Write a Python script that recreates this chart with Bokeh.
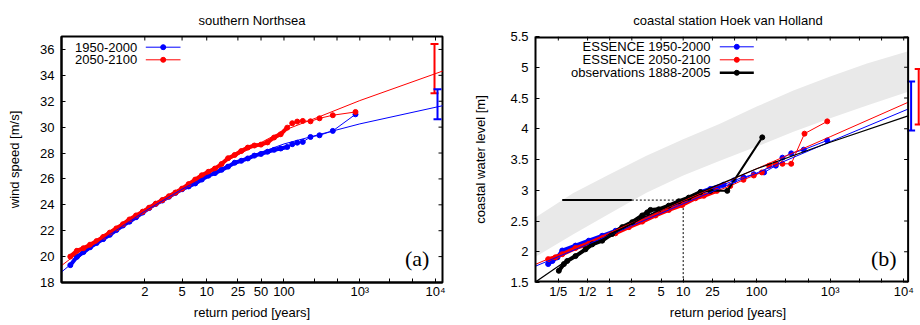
import numpy as np
from bokeh.plotting import figure
from bokeh.layouts import row
from bokeh.models import Range1d, FixedTicker, Label, Span
from bokeh.embed import file_html
from bokeh.resources import INLINE

FONT = "Liberation Sans"
FS = "13px"
BLUE = "#0000ff"
RED = "#ff0000"
BLACK = "#000000"

# ---------------- (a) southern Northsea: wind speed vs return period ----------------
wind_T = [1.00125, 1.00421, 1.01144, 1.02617, 1.0522, 1.0935, 1.1541, 1.2381, 1.3501, 1.4952,
          1.6796, 1.911, 2.199, 2.555, 2.993, 3.532, 4.191, 5.0, 5.988, 7.199,
          8.676, 10.48, 12.69, 15.38, 18.68, 22.70, 27.62, 33.61, 40.95, 49.90,
          60.8, 74.2, 90.5, 110.4, 128.4, 149.4, 176.9, 223.7, 294, 440, 877]
wind_1950 = [19.34, 19.98, 20.35, 20.72, 21.05, 21.35, 21.68, 22.05, 22.4, 22.7,
             23.04, 23.4, 23.75, 24.07, 24.33, 24.62, 24.92, 25.2, 25.42, 25.65,
             25.95, 26.25, 26.45, 26.7, 26.95, 27.25, 27.4, 27.58, 27.8, 27.93,
             28.1, 28.25, 28.35, 28.47, 28.68, 28.8, 28.86, 29.24, 29.37, 29.71, 30.99]
wind_2050 = [20.0, 20.45, 20.65, 20.92, 21.2, 21.52, 21.85, 22.18, 22.5, 22.87,
             23.18, 23.47, 23.78, 24.09, 24.37, 24.66, 24.95, 25.25, 25.6, 25.95,
             26.28, 26.55, 26.8, 27.15, 27.6, 27.85, 28.15, 28.42, 28.58, 28.65,
             28.82, 29.2, 29.45, 29.96, 30.3, 30.43, 30.48, 30.45, 30.68, 30.92, 31.17]
wind_fit_T = [1.0001, 1.01, 1.1, 1.5, 2, 5, 10, 25, 100, 300, 1000, 13000]
wind_fit_1950 = [18.70, 20.15, 21.4, 22.72, 23.5, 25.2, 26.23, 27.4, 28.7, 29.45, 30.25, 31.68]
wind_fit_2050 = [19.2, 20.55, 21.7, 22.95, 23.6, 25.35, 26.55, 27.85, 29.75, 30.83, 32.05, 34.37]
wind_err_T = 10000
wind_err_1950 = [30.61, 32.92]
wind_err_2050 = [32.61, 36.42]
wind_xticks = [2, 5, 10, 25, 50, 100, 250, 500, 1000, 2500, 5000, 10000]
wind_xlabels = ["2", "5", "10", "25", "50", "100", "", "", "10³", "", "", "10⁴"]
wind_yticks = [18, 20, 22, 24, 26, 28, 30, 32, 34, 36]

# ---------------- (b) Hoek van Holland: coastal water level vs return period ----------------
ess_T_1950 = [0.1455, 0.166, 0.195, 0.226, 0.343, 0.520, 0.791, 1.20, 1.82, 2.77,
              4.20, 6.37, 9.68, 14.7, 17.2, 23.4, 35.5, 49.0, 66.1, 91.2,
              126, 182, 224, 295, 437, 912]
ess_1950 = [1.80, 1.85, 1.91, 2.02, 2.10, 2.18, 2.26, 2.34, 2.43, 2.53,
            2.61, 2.69, 2.80, 2.91, 2.97, 3.02, 3.09, 3.16, 3.21, 3.26,
            3.29, 3.40, 3.53, 3.60, 3.66, 3.81]
ess_T_2050 = [0.1455, 0.183, 0.226, 0.343, 0.520, 0.791, 1.20, 1.82, 2.77, 4.20,
              6.37, 9.68, 14.7, 19.1, 28.8, 43.7, 66.1, 91.2, 117.5, 148,
              182, 224, 295, 447, 912]
ess_2050 = [1.88, 1.91, 1.96, 2.06, 2.13, 2.22, 2.30, 2.40, 2.49, 2.59,
            2.68, 2.76, 2.87, 2.91, 2.99, 3.07, 3.17, 3.24, 3.29, 3.40,
            3.43, 3.43, 3.43, 3.92, 4.12]
obs_T = [0.203, 0.238, 0.264, 0.343, 0.469, 0.578, 0.791, 1.08, 1.48, 2.02,
         2.77, 3.24, 3.59, 4.66, 6.37, 8.71, 11.9, 17.2, 23.4, 39.8, 119]
obs_level = [1.69, 1.80, 1.85, 1.93, 2.04, 2.12, 2.18, 2.29, 2.40, 2.48,
             2.59, 2.64, 2.68, 2.69, 2.75, 2.82, 2.88, 2.97, 2.99, 2.99, 3.86]
fit_T = [0.0955, 0.214, 0.5, 1, 3.16, 12.6, 100, 1000, 11480]
fit_obs = [1.50, 1.79, 2.06, 2.27, 2.58, 2.90, 3.35, 3.78, 4.21]
fitl_T = [0.0955, 1, 10, 100, 1000, 11480]
fit_1950 = [1.76, 2.27, 2.78, 3.28, 3.79, 4.32]
fit_2050 = [1.79, 2.31, 2.83, 3.35, 3.87, 4.43]
band_T = [0.0955, 0.316, 1, 3.16, 10, 31.6, 100, 316, 1000, 3162, 11480]
band_low = [1.91, 2.28, 2.62, 2.96, 3.24, 3.48, 3.71, 3.95, 4.17, 4.38, 4.60]
band_high = [2.55, 2.95, 3.26, 3.56, 3.83, 4.08, 4.36, 4.62, 4.85, 5.06, 5.26]
ref_level = 2.84
ref_T_band = [0.226, 2.0]
ref_T10 = 10
coast_err_1950 = [3.97, 4.77]
coast_err_2050 = [4.07, 4.97]
coast_xticks = [0.2, 0.5, 1, 2, 5, 10, 25, 50, 100, 250, 500, 1000, 2500, 5000, 10000]
coast_xlabels = ["1/5", "1/2", "1", "2", "5", "10", "25", "", "100", "", "", "10³", "", "", "10⁴"]
coast_yticks = [1.5, 2.0, 2.5, 3.0, 3.5, 4.0, 4.5, 5.0, 5.5]
coast_ylabels = ["1.5", "2", "2.5", "3", "3.5", "4", "4.5", "5", "5.5"]


def gumbel(T):
    T = np.asarray(T, dtype=float)
    return -np.log(-np.log(1.0 - 1.0 / T))


def style(p):
    p.grid.visible = False
    p.background_fill_color = "white"
    p.border_fill_color = "white"
    p.title.align = "center"
    p.title.text_font = FONT
    p.title.text_font_size = FS
    p.title.text_font_style = "normal"
    p.title.text_color = "black"
    p.title.standoff = 17
    for ax in (p.xaxis[0], p.yaxis[0]):
        ax.major_tick_in = 4
        ax.major_tick_out = 0
        ax.minor_tick_line_color = None
        ax.major_tick_line_color = BLACK
        ax.axis_line_color = BLACK
        ax.axis_line_width = 2
        ax.major_label_text_font = FONT
        ax.major_label_text_font_size = FS
        ax.major_label_text_color = BLACK
        ax.axis_label_text_font = FONT
        ax.axis_label_text_font_size = FS
        ax.axis_label_text_font_style = "normal"
        ax.axis_label_text_color = BLACK
    p.xaxis.major_label_standoff = 1
    p.xaxis.axis_label_standoff = 3
    p.yaxis.major_label_standoff = 7


def text_label(p, x, y, txt, align="right", font=FONT, size=FS):
    p.add_layout(Label(x=x, y=y, text=txt, text_align=align, text_baseline="middle",
                       text_font=font, text_font_size=size, text_color=BLACK))


# ================= panel (a) =================
GA0, GA1 = -2.168, 9.423
AY0, AY1 = 18, 37
pa = figure(width=460, height=325, x_range=Range1d(GA0, GA1), y_range=Range1d(AY0, AY1),
            output_backend="svg", toolbar_location=None, title="southern Northsea",
            min_border_left=61, min_border_right=18, min_border_top=36, min_border_bottom=43)
style(pa)
pa.outline_line_color = BLACK
pa.outline_line_width = 2
pa.xaxis.axis_label = "return period [years]"
pa.yaxis.axis_label = "wind speed [m/s]"
pa.yaxis.axis_label_standoff = 15
gx = [float(v) for v in gumbel(wind_xticks)]
pa.xaxis.ticker = FixedTicker(ticks=gx)
pa.xaxis.major_label_overrides = {g: lab for g, lab in zip(gx, wind_xlabels)}
pa.yaxis.ticker = FixedTicker(ticks=wind_yticks)

def a_x(px):
    return GA0 + (px - 61) * (GA1 - GA0) / 381

def a_y(py):
    return AY1 - (py - 36) * (AY1 - AY0) / 246

ax_per_px = (GA1 - GA0) / 381
ay_per_px = (AY1 - AY0) / 246

# mirrored ticks (top and right)
pa.segment(x0=gx, x1=gx, y0=[AY1 - 4 * ay_per_px] * len(gx), y1=[AY1] * len(gx), line_color=BLACK, line_width=1)
pa.segment(x0=[GA1 - 4 * ax_per_px] * len(wind_yticks), x1=[GA1] * len(wind_yticks),
           y0=wind_yticks, y1=wind_yticks, line_color=BLACK, line_width=1)

wg = gumbel(wind_T)
dense_a = np.asarray(wind_T) <= 111
for vals, col in ((wind_1950, BLUE), (wind_2050, RED)):
    v = np.asarray(vals)
    pa.line(wg[dense_a], v[dense_a], line_color=col, line_width=4)
    pa.line(wg, v, line_color=col, line_width=1)
    pa.scatter(wg, v, size=5, marker="circle", fill_color=col, line_color=col)

fg = gumbel(wind_fit_T)
pa.line(fg, wind_fit_1950, line_color=BLUE, line_width=1)
pa.line(fg, wind_fit_2050, line_color=RED, line_width=1)

# error bars at T = 10^4 (slightly offset for visibility)
ge = float(gumbel(wind_err_T))
for (lo, hi), col, off in ((wind_err_2050, RED, -1), (wind_err_1950, BLUE, 2)):
    x = ge + off * ax_per_px
    c = 4 * ax_per_px
    pa.segment(x0=[x, x - c, x - c], x1=[x, x + c, x + c], y0=[lo, lo, hi], y1=[hi, lo, hi],
               line_color=col, line_width=2)

# legend (a)
for i, (name, col) in enumerate((("1950-2000", BLUE), ("2050-2100", RED))):
    yy = a_y(46.7 + i * 12.6)
    text_label(pa, a_x(136.7), yy, name)
    pa.line([a_x(145.3), a_x(180)], [yy, yy], line_color=col, line_width=1)
    pa.scatter([a_x(162.7)], [yy], size=5, marker="circle", fill_color=col, line_color=col)
text_label(pa, a_x(416.7), a_y(258.3), "(a)", align="center", font="Liberation Serif", size="22px")

# ================= panel (b) =================
SCALE = 73.5  # px per decade
BL0 = 1 + (535 - 682.7) / SCALE
BL1 = BL0 + 385 / SCALE
T_BOX = 10 ** 4.06
BY0, BY1 = 1.5, 5.5
pb = figure(width=460, height=325, x_axis_type="log", x_range=Range1d(10 ** BL0, 10 ** BL1),
            y_range=Range1d(BY0, BY1), output_backend="svg", toolbar_location=None,
            title="coastal station Hoek van Holland",
            min_border_left=75, min_border_right=0, min_border_top=36, min_border_bottom=43)
style(pb)
pb.outline_line_color = None
pb.xaxis.axis_line_color = None
pb.xaxis.axis_label = "return period [years]"
pb.yaxis.axis_label = "coastal water level [m]"
pb.yaxis.axis_label_standoff = 19
cx = [float(v) for v in coast_xticks]
pb.xaxis.ticker = FixedTicker(ticks=cx)
pb.xaxis.major_label_overrides = {t: lab for t, lab in zip(cx, coast_xlabels)}
cy = [float(v) for v in coast_yticks]
pb.yaxis.ticker = FixedTicker(ticks=cy)
pb.yaxis.major_label_overrides = {t: lab for t, lab in zip(cy, coast_ylabels)}

def b_x(px_ref):
    return 10 ** (1 + (px_ref - 682.7) / SCALE)

def b_y(py):
    return BY1 - (py - 36) * (BY1 - BY0) / 246

by_per_px = (BY1 - BY0) / 246
bfac = 10 ** (1 / SCALE)

# uncertainty band
pb.varea(x=band_T, y1=band_low, y2=band_high, fill_color="#e9e9e9")

# box: top / bottom / right borders
pb.line([10 ** BL0, T_BOX], [BY1, BY1], line_color=BLACK, line_width=4)
pb.line([10 ** BL0, T_BOX], [BY0, BY0], line_color=BLACK, line_width=4)
pb.add_layout(Span(location=T_BOX, dimension="height", line_color=BLACK, line_width=2))
pb.segment(x0=cx, x1=cx, y0=[BY1 - 4 * by_per_px] * len(cx), y1=[BY1] * len(cx), line_color=BLACK, line_width=1)
pb.segment(x0=[T_BOX / bfac ** 4] * len(cy), x1=[T_BOX] * len(cy), y0=cy, y1=cy, line_color=BLACK, line_width=1)

# 10-year level reference lines
pb.line(ref_T_band, [ref_level, ref_level], line_color=BLACK, line_width=2)
pb.line([ref_T_band[1], ref_T10], [ref_level, ref_level], line_color=BLACK, line_width=1, line_dash="2 2")
pb.line([ref_T10, ref_T10], [ref_level, BY0], line_color=BLACK, line_width=1, line_dash="2 2")

for Ts, vals, col, lim in ((ess_T_1950, ess_1950, BLUE, 40), (ess_T_2050, ess_2050, RED, 40),
                           (obs_T, obs_level, BLACK, 20)):
    t = np.asarray(Ts)
    v = np.asarray(vals)
    m = t <= lim
    pb.line(t[m], v[m], line_color=col, line_width=4)
    pb.line(t, v, line_color=col, line_width=2 if col == BLACK else 1)
    pb.scatter(t, v, size=5, marker="circle", fill_color=col, line_color=col)

pb.line(fitl_T, fit_1950, line_color=BLUE, line_width=1)
pb.line(fitl_T, fit_2050, line_color=RED, line_width=1)
pb.line(fit_T, fit_obs, line_color=BLACK, line_width=1.2)

# error bars at T = 10^4, drawn just right of the box
for (lo, hi), col, pxoff in ((coast_err_1950, BLUE, 3), (coast_err_2050, RED, 10.6)):
    x = T_BOX * bfac ** pxoff
    c = bfac ** 4
    pb.segment(x0=[x, x / c, x / c], x1=[x, x * c, x * c], y0=[lo, lo, hi], y1=[hi, lo, hi],
               line_color=col, line_width=2)

# legend (b)
for i, (name, col, lw) in enumerate((("ESSENCE 1950-2000", BLUE, 1), ("ESSENCE 2050-2100", RED, 1),
                                      ("observations 1888-2005", BLACK, 2.5))):
    yy = b_y(46.3 + i * 13)
    text_label(pb, b_x(710), yy, name)
    pb.line([b_x(719.3), b_x(753.3)], [yy, yy], line_color=col, line_width=lw)
    pb.scatter([b_x(736.3)], [yy], size=5, marker="circle", fill_color=col, line_color=col)
text_label(pb, b_x(883.3), b_y(258.3), "(b)", align="center", font="Liberation Serif", size="22px")

layout = row(pa, pb)
open("out.html", "w").write(file_html(layout, INLINE))
